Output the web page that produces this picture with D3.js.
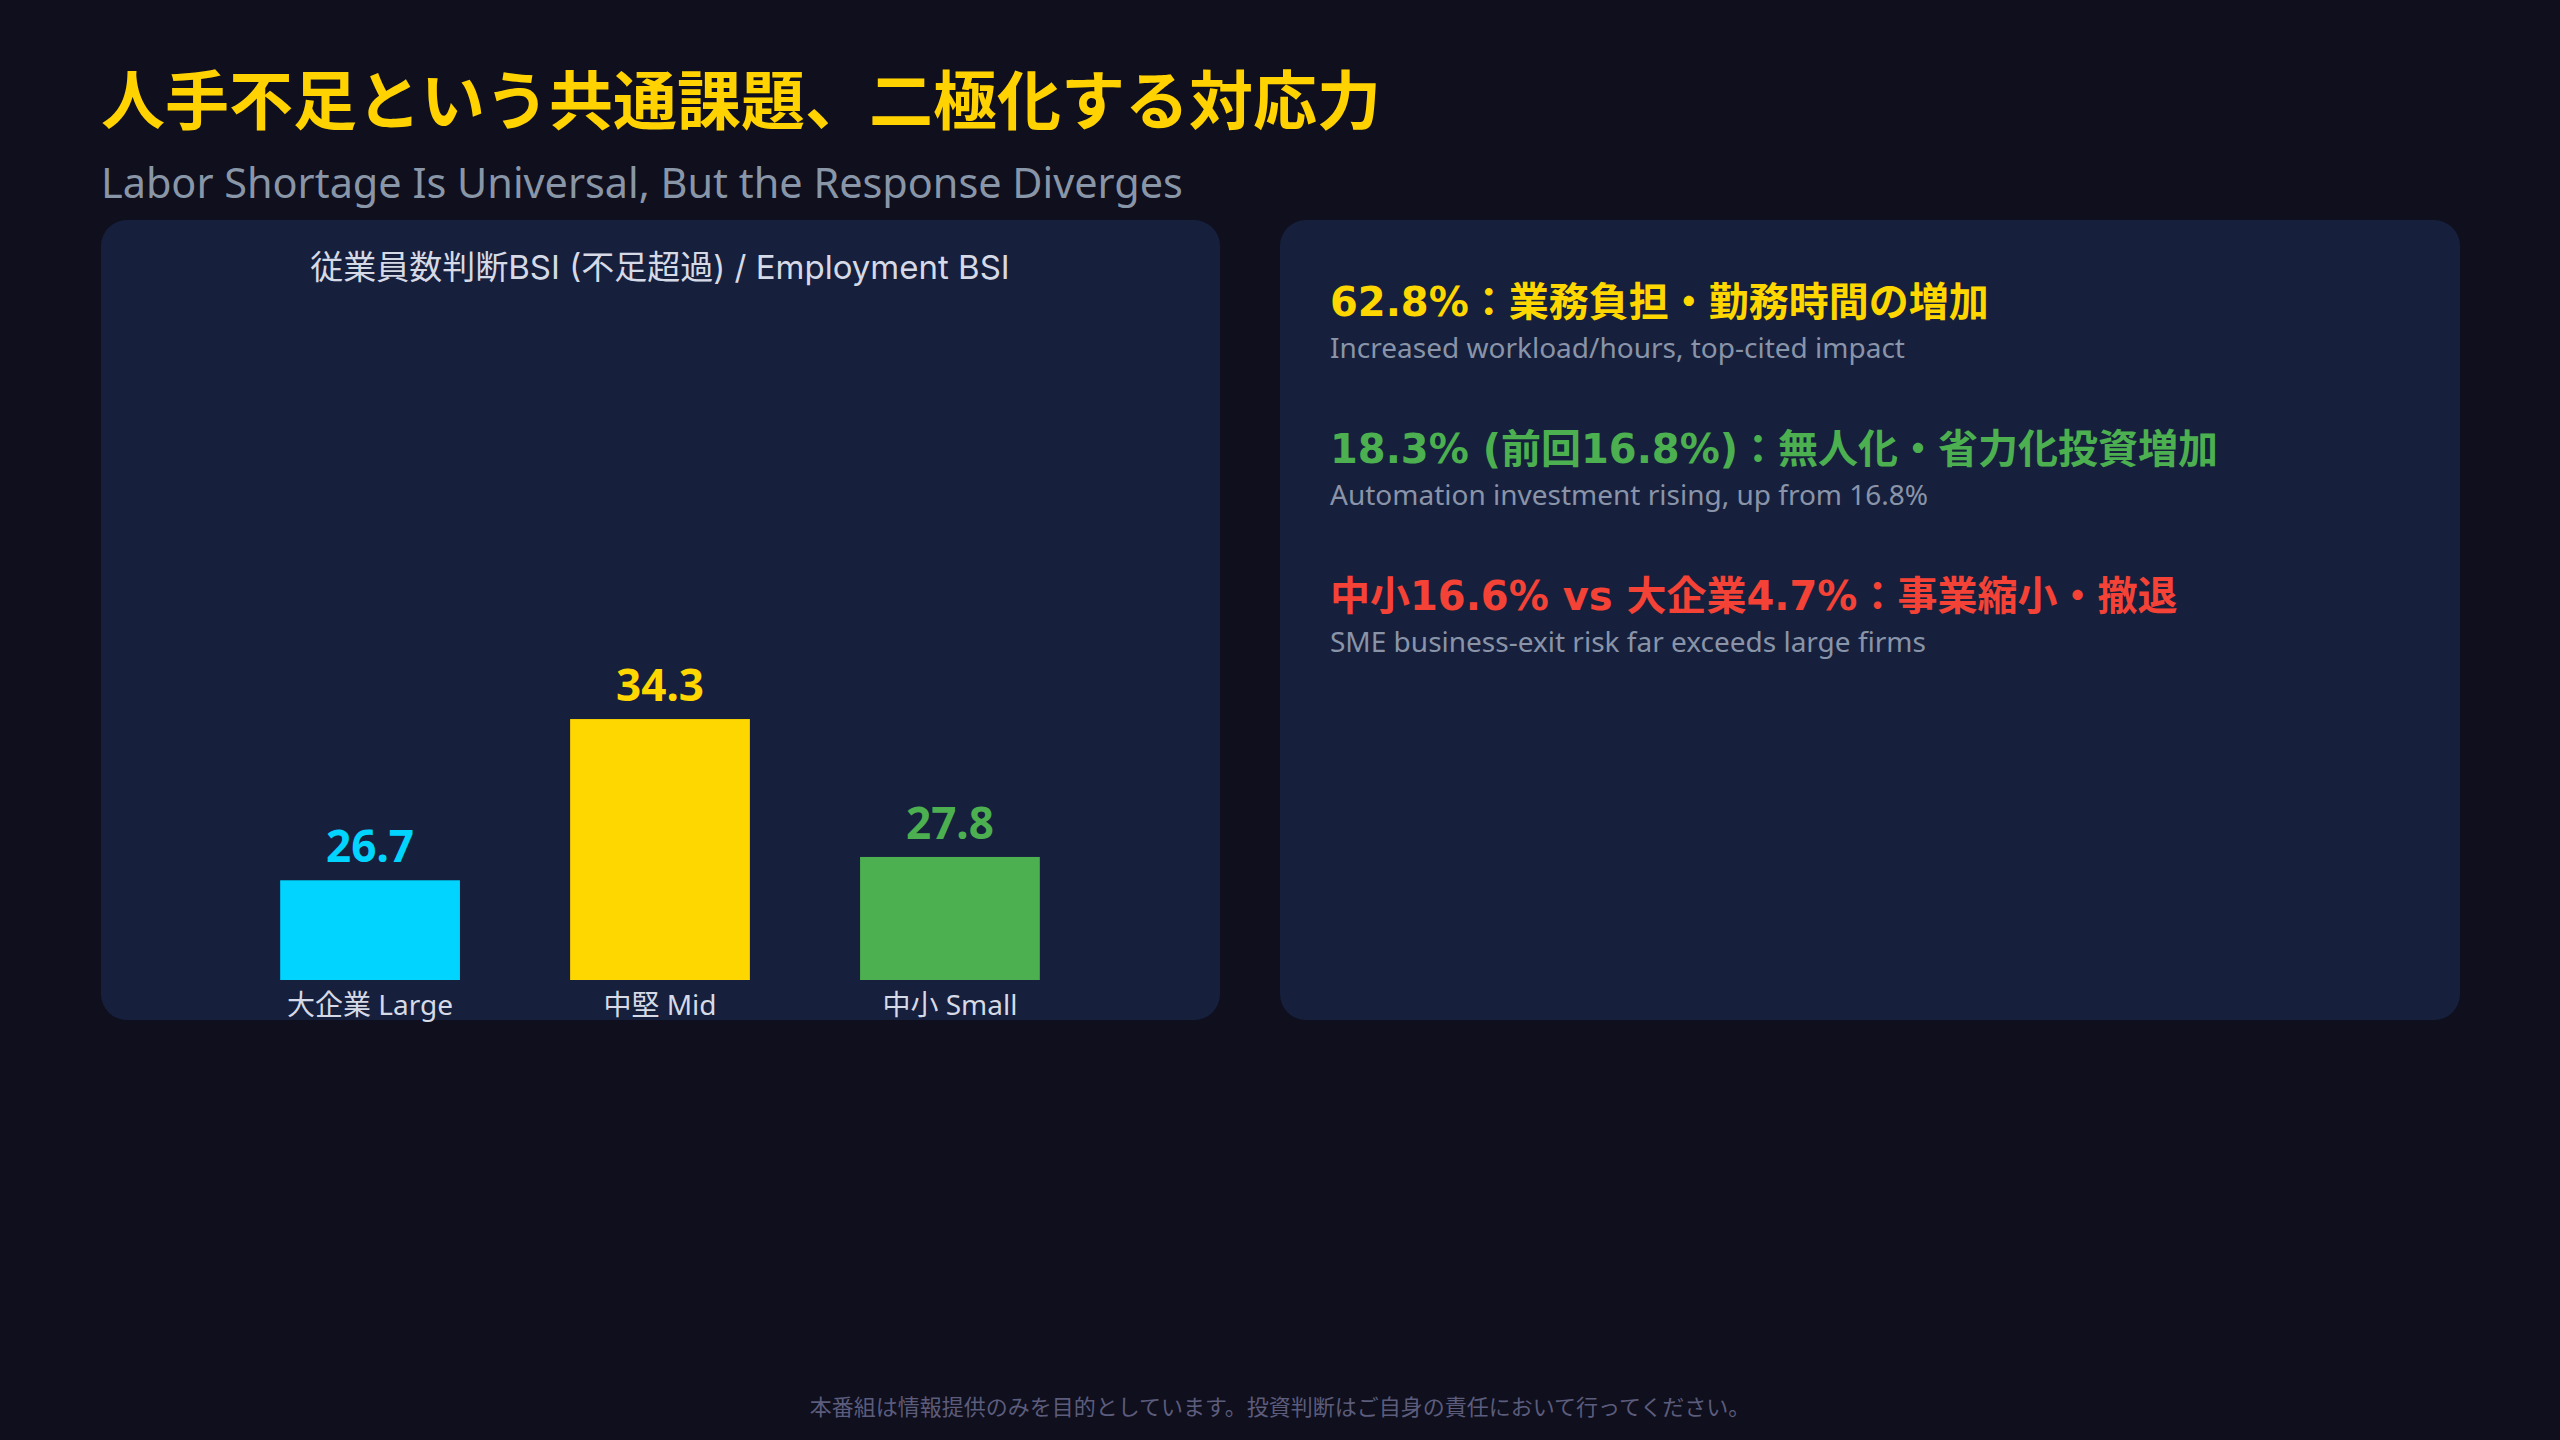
<!DOCTYPE html>
<html>
<head>
<meta charset="utf-8">
<script src="https://cdn.jsdelivr.net/npm/d3@7"></script>
<style>
  html, body { margin: 0; padding: 0; background: #0f0f1d; }
  svg { display: block; }
  text { font-family: "Noto Sans", "Noto Sans CJK JP", sans-serif; }
  .wide { font-family: Inter, "Noto Sans CJK JP", sans-serif; }
  .headline { font-family: "DejaVu Sans", "Noto Sans CJK JP", sans-serif; }
</style>
</head>
<body>
<svg id="chart"></svg>
<script>
// chart data
var categories = ["大企業 Large", "中堅 Mid", "中小 Small"];
var bsiValues = [26.7, 34.3, 27.8];
var barColors = ["#00d4ff", "#ffd700", "#4caf50"];

// key findings (right panel)
var headlines = [
    "62.8%：業務負担・勤務時間の増加",
    "18.3% (前回16.8%)：無人化・省力化投資増加",
    "中小16.6% vs 大企業4.7%：事業縮小・撤退"
];
var notes = [
    "Increased workload/hours, top-cited impact",
    "Automation investment rising, up from 16.8%",
    "SME business-exit risk far exceeds large firms"
];
var headlineColors = ["#ffd700", "#4caf50", "#f44336"];

var W = 2560, H = 1440;

var svg = d3.select("#chart")
    .attr("width", W)
    .attr("height", H);

svg.append("rect")
    .attr("width", W)
    .attr("height", H)
    .attr("fill", "#0f0f1d");

// Title
svg.append("text")
    .attr("x", 101)
    .attr("y", 124)
    .attr("fill", "#ffd200")
    .style("font-size", "64px")
    .style("font-weight", "700")
    .text("人手不足という共通課題、二極化する対応力");

svg.append("text")
    .attr("x", 101)
    .attr("y", 198)
    .attr("fill", "#8996a8")
    .style("font-size", "41.4px")
    .text("Labor Shortage Is Universal, But the Response Diverges");

// Panels
svg.append("rect")
    .attr("x", 101).attr("y", 220)
    .attr("width", 1119).attr("height", 800)
    .attr("rx", 26)
    .attr("fill", "#16203d");

svg.append("rect")
    .attr("x", 1280).attr("y", 220)
    .attr("width", 1180).attr("height", 800)
    .attr("rx", 26)
    .attr("fill", "#16203d");

// Bar chart
svg.append("text")
    .attr("class", "wide")
    .attr("x", 660)
    .attr("y", 279)
    .attr("text-anchor", "middle")
    .attr("fill", "#d6dae6")
    .style("font-size", "33px")
    .text("従業員数判断BSI (不足超過) / Employment BSI");

var xScale = d3.scaleBand()
    .domain(categories)
    .range([170, 1150])
    .padding(0.38);

var yScale = d3.scaleLinear()
    .domain([22, 36])
    .range([980, 683]);

var chart = svg.append("g");

chart.selectAll(".bar")
    .data(bsiValues)
    .enter().append("rect")
    .attr("class", "bar")
    .attr("x", function (d, i) { return xScale(categories[i]); })
    .attr("y", function (d) { return yScale(d); })
    .attr("width", xScale.bandwidth())
    .attr("height", function (d) { return yScale.range()[0] - yScale(d); })
    .attr("fill", function (d, i) { return barColors[i]; });

chart.selectAll(".bar-value")
    .data(bsiValues)
    .enter().append("text")
    .attr("class", "bar-value")
    .attr("x", function (d, i) { return xScale(categories[i]) + xScale.bandwidth() / 2; })
    .attr("y", function (d) { return yScale(d) - 18; })
    .attr("text-anchor", "middle")
    .attr("fill", function (d, i) { return barColors[i]; })
    .style("font-size", "44px")
    .style("font-weight", "700")
    .text(function (d) { return d.toFixed(1); });

var xAxis = chart.append("g")
    .attr("transform", "translate(0," + yScale.range()[0] + ")")
    .call(d3.axisBottom(xScale).tickSize(0).tickPadding(15));

xAxis.select(".domain").remove();
xAxis.selectAll("text")
    .attr("fill", "#d6dae6")
    .style("font-size", "28px")
    .style("font-family", "'Noto Sans', 'Noto Sans CJK JP', sans-serif");

// Findings
var findings = svg.append("g");

findings.selectAll(".headline")
    .data(headlines)
    .enter().append("text")
    .attr("class", "headline")
    .attr("x", 1330)
    .attr("y", function (d, i) { return 316 + i * 147; })
    .attr("fill", function (d, i) { return headlineColors[i]; })
    .style("font-size", "40px")
    .style("font-weight", "700")
    .text(function (d) { return d; });

findings.selectAll(".note")
    .data(notes)
    .enter().append("text")
    .attr("class", "note")
    .attr("x", 1330)
    .attr("y", function (d, i) { return 358 + i * 147; })
    .attr("fill", "#8a94a8")
    .style("font-size", "28px")
    .text(function (d) { return d; });

// Footer
svg.append("text")
    .attr("x", 1280)
    .attr("y", 1415)
    .attr("text-anchor", "middle")
    .attr("fill", "#5c5c7c")
    .style("font-size", "22px")
    .text("本番組は情報提供のみを目的としています。投資判断はご自身の責任において行ってください。");
</script>
</body>
</html>
